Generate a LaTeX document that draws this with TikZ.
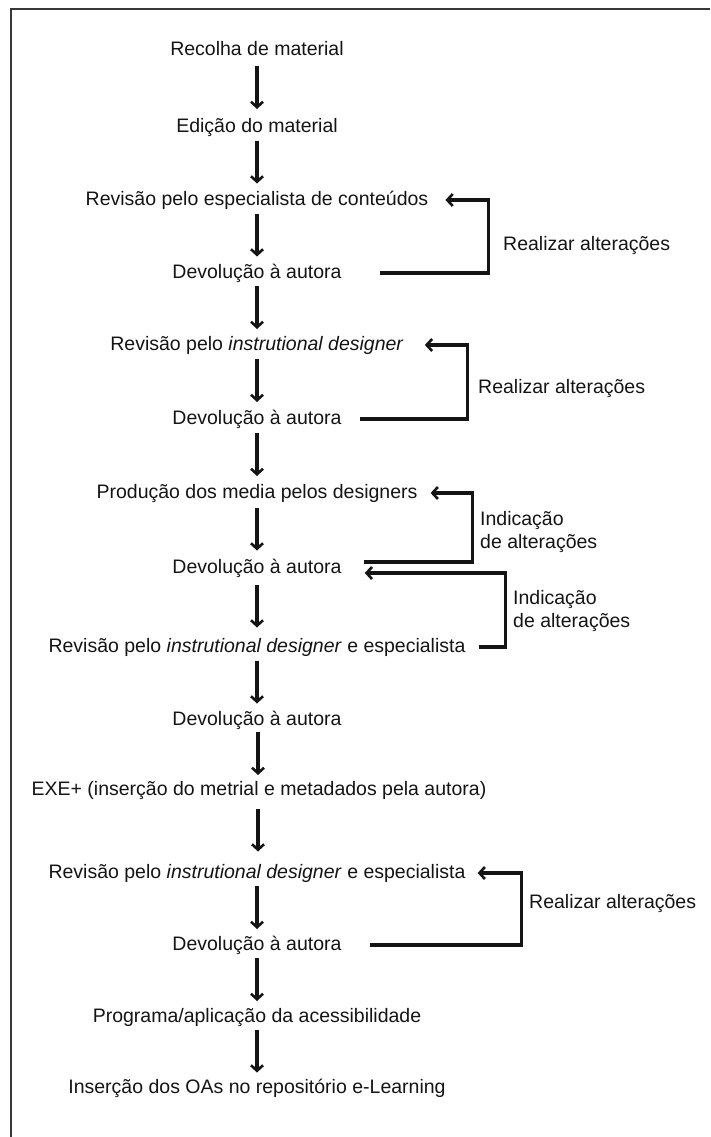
\documentclass[tikz,border=0pt]{standalone}
\usepackage{fontspec}
\setmainfont{Liberation Sans}
\usetikzlibrary{arrows.meta,calc}
\definecolor{ink}{HTML}{141414}
\definecolor{framec}{HTML}{383838}
\begin{document}
\begin{tikzpicture}[x=1pt,y=-1pt,
  txt/.style={font=\fontsize{19.5}{23}\selectfont, text=ink},
  stepbox/.style={txt, inner sep=0pt, text height=14pt, text depth=4pt},
  lbl/.style={txt, anchor=west, inner sep=0pt, align=left},
  tip/.style={-{Straight Barb[length=5.5pt,width=12pt,line width=2.6pt]}},
  flow/.style={draw=ink, line width=3.2pt, tip},
  back/.style={draw=ink, line width=3.2pt, tip}]

% page and frame
\useasboundingbox (0,0) rectangle (710,1137);
\draw[framec, line width=2.2pt] (11,1137) -- (11,9) -- (710,9);

% process steps
\node[stepbox] (n1)  at (257,51)   {Recolha de material};
\node[stepbox] (n2)  at (257,127)  {Edição do material};
\node[stepbox] (n3)  at (257,200)  {Revisão pelo especialista de conteúdos};
\node[stepbox] (n4)  at (257,273)  {Devolução à autora};
\node[stepbox] (n5)  at (257,345)  {Revisão pelo \textit{instrutional designer}};
\node[stepbox] (n6)  at (257,419)  {Devolução à autora};
\node[stepbox] (n7)  at (257,493)  {Produção dos media pelos designers};
\node[stepbox] (n8)  at (257,568)  {Devolução à autora};
\node[stepbox] (n9)  at (257,647)  {Revisão pelo \textit{instrutional designer} e especialista};
\node[stepbox] (n10) at (257,720)  {Devolução à autora};
\node[stepbox] (n11) at (259,790)  {EXE+ (inserção do metrial e metadados pela autora)};
\node[stepbox] (n12) at (257,873)  {Revisão pelo \textit{instrutional designer} e especialista};
\node[stepbox] (n13) at (257,945)  {Devolução à autora};
\node[stepbox] (n14) at (257,1017) {Programa/aplicação da acessibilidade};
\node[stepbox] (n15) at (257,1088) {Inserção dos OAs no repositório e-Learning};

% downward arrows between consecutive steps
\foreach \a/\b in {n1/n2,n2/n3,n3/n4,n4/n5,n5/n6,n6/n7,n7/n8,n8/n9,n9/n10,n10/n11,n11/n12,n12/n13,n13/n14,n14/n15}
  \draw[flow] ($(\a)!0.5!(\b)+(0,-23)$) -- ($(\a)!0.5!(\b)+(0,20)$);

% feedback loops
\draw[back] ([xshift=38pt]n4.east) -- ++(109,0) |- ([xshift=17pt]n3.east);
\draw[back] ([xshift=18pt]n6.east) -- ++(108,0) |- ([xshift=21pt]n5.east);
\draw[back] ([xshift=22pt,yshift=6pt]n8.east) -- ++(109,0) |- ([xshift=13pt]n7.east);
\draw[back] ([xshift=13pt]n9.east) -- ++(27,0) |- ([xshift=23pt,yshift=-5pt]n8.east);
\draw[back] ([xshift=28pt]n13.east) -- ++(152,0) |- ([xshift=12pt]n12.east);

% loop labels
\node[lbl] (l1) at (503,245)   {Realizar alterações};
\node[lbl] (l2) at (478,388)   {Realizar alterações};
\node[lbl] (l3) at (480,531.5) {Indicação\\de alterações};
\node[lbl] (l4) at (513,610.5) {Indicação\\de alterações};
\node[lbl] (l5) at (529,903)   {Realizar alterações};
\end{tikzpicture}
\end{document}
